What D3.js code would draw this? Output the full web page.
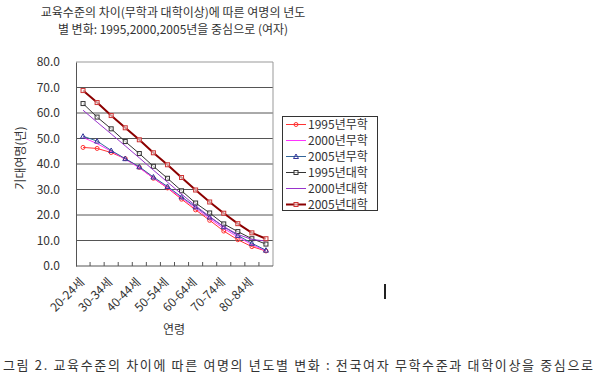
<!DOCTYPE html>
<html>
<head>
<meta charset="utf-8">
<script src="https://cdn.jsdelivr.net/npm/d3@7"></script>
<style>
  body { margin: 0; background: #fff; }
  text { font-family: "Noto Sans CJK KR", "DejaVu Sans", sans-serif; fill: #333; }
</style>
</head>
<body>
<div id="vis-container"></div>
<script>
// age groups (x axis)
const ages = ["20-24세", "25-29세", "30-34세", "35-39세", "40-44세", "45-49세", "50-54세",
  "55-59세", "60-64세", "65-69세", "70-74세", "75-79세", "80-84세", "85세이상"];

// expected remaining years, women
const noEdu1995 = [46.5, 46.1, 44.5, 42.1, 38.7, 34.4, 30.6, 26.2, 22.0, 17.9, 13.7, 10.3, 7.6, 5.9];
const noEdu2000 = [50.4, 48.0, 45.0, 41.9, 38.5, 34.5, 30.8, 26.7, 22.7, 18.6, 14.7, 11.4, 8.4, 5.9];
const noEdu2005 = [50.9, 49.0, 45.3, 42.1, 38.9, 34.9, 31.2, 27.1, 23.2, 19.2, 15.4, 12.0, 8.9, 6.2];
const col1995 = [63.7, 58.4, 53.8, 48.8, 44.1, 39.1, 34.4, 29.5, 24.7, 20.8, 16.5, 13.5, 10.7, 8.6];
const col2000 = [61.1, 56.4, 51.8, 47.1, 42.4, 37.6, 32.9, 28.2, 23.6, 19.4, 15.4, 12.4, 10.4, 9.8];
const col2005 = [68.8, 64.1, 59.0, 54.2, 49.5, 44.4, 39.7, 34.7, 29.8, 25.1, 20.7, 16.6, 13.0, 10.7];

const yTicks = [0, 10, 20, 30, 40, 50, 60, 70, 80];

const series = [
  { name: "1995년무학", values: noEdu1995, color: "#ff3333", width: 1, marker: "circle" },
  { name: "2000년무학", values: noEdu2000, color: "#ff33ff", width: 1, marker: null },
  { name: "2005년무학", values: noEdu2005, color: "#336699", width: 1, marker: "triangle", mcolor: "#333399" },
  { name: "1995년대학", values: col1995, color: "#333333", width: 1, marker: "square" },
  { name: "2000년대학", values: col2000, color: "#9933cc", width: 1, marker: null },
  { name: "2005년대학", values: col2005, color: "#8b0000", width: 2, marker: "square", mcolor: "#cc3333" }
];

const width = 600, height = 385;
const svg = d3.select('#vis-container').append('svg')
  .attr('width', width).attr('height', height);

const x = d3.scaleBand().domain(ages).range([76, 273]);
const y = d3.scaleLinear().domain([0, 80]).range([266, 62]);

// titles
svg.append('text').attr('x', 173).attr('y', 17).attr('text-anchor', 'middle')
  .style('font-size', '12px').text('교육수준의 차이(무학과 대학이상)에 따른 여명의 년도');
svg.append('text').attr('x', 173).attr('y', 34).attr('text-anchor', 'middle')
  .style('font-size', '12px').text('별 변화: 1995,2000,2005년을 중심으로 (여자)');

// gridlines
svg.append('g').selectAll('line').data(yTicks.slice(1)).enter().append('line')
  .attr('x1', 76).attr('x2', 273)
  .attr('y1', d => y(d)).attr('y2', d => y(d))
  .attr('stroke', d => d === 80 ? '#999' : '#555').attr('stroke-width', 1);
svg.append('line').attr('x1', 273).attr('x2', 273).attr('y1', y(80)).attr('y2', y(0))
  .attr('stroke', '#999');

// y axis
const yAxis = svg.append('g').attr('transform', 'translate(76,0)')
  .call(d3.axisLeft(y).tickValues(yTicks).tickSize(0).tickPadding(16).tickFormat(d3.format('.1f')));
yAxis.select('.domain').attr('stroke', '#555');
yAxis.selectAll('text').style('font-size', '12px').attr('fill', '#333');

// x axis with inward ticks at category boundaries
svg.append('line').attr('x1', 76).attr('x2', 273).attr('y1', 266).attr('y2', 266).attr('stroke', '#555');
svg.append('g').selectAll('line').data(ages.slice(1)).enter().append('line')
  .attr('x1', d => x(d)).attr('x2', d => x(d)).attr('y1', 266).attr('y2', 262)
  .attr('stroke', '#555');

svg.append('g').selectAll('text').data(ages.filter((d, i) => i % 2 === 0)).enter().append('text')
  .attr('transform', d => `translate(${x(d) + x.bandwidth() / 2 - 1},${280}) rotate(-45)`)
  .attr('text-anchor', 'end').attr('dy', '0.35em')
  .style('font-size', '12px').text(d => d);

svg.append('text').attr('x', 174).attr('y', 334).attr('text-anchor', 'middle')
  .style('font-size', '12px').text('연령');
svg.append('text').attr('transform', 'translate(25,158) rotate(-90)').attr('text-anchor', 'middle')
  .style('font-size', '12px').text('기대여명(년)');

// lines and markers
const line = d3.line().x((d, i) => x(ages[i]) + x.bandwidth() / 2).y(d => y(d));

function drawMarker(g, type, color, cx, cy) {
  if (type === 'circle') {
    g.append('circle').attr('cx', cx).attr('cy', cy).attr('r', 2)
      .attr('fill', 'none').attr('stroke', color);
  } else if (type === 'square') {
    g.append('rect').attr('x', cx - 2).attr('y', cy - 2).attr('width', 4).attr('height', 4)
      .attr('fill', '#fff').attr('fill-opacity', 0.6).attr('stroke', color);
  } else if (type === 'triangle') {
    g.append('path').attr('d', `M${cx},${cy - 2.5}L${cx + 2.5},${cy + 2}L${cx - 2.5},${cy + 2}Z`)
      .attr('fill', 'none').attr('stroke', color);
  }
}

series.forEach(s => {
  const g = svg.append('g');
  g.append('path').datum(s.values).attr('d', line)
    .attr('fill', 'none').attr('stroke', s.color).attr('stroke-width', s.width);
  if (s.marker) {
    s.values.forEach((v, i) => drawMarker(g, s.marker, s.mcolor || s.color,
      x(ages[i]) + x.bandwidth() / 2, y(v)));
  }
});

// legend
const legend = svg.append('g');
legend.append('rect').attr('x', 282.5).attr('y', 116.5).attr('width', 95).attr('height', 94)
  .attr('fill', '#fff').attr('stroke', '#333');
series.forEach((s, i) => {
  const ly = 124.5 + i * 16;
  legend.append('line').attr('x1', 286).attr('x2', 306).attr('y1', ly).attr('y2', ly)
    .attr('stroke', s.color).attr('stroke-width', s.width);
  if (s.marker) drawMarker(legend, s.marker, s.mcolor || s.color, 296, ly);
  legend.append('text').attr('x', 308).attr('y', ly).attr('dy', '0.35em')
    .style('font-size', '12px').text(s.name);
});

// text cursor left in the screenshot
svg.append('rect').attr('x', 384).attr('y', 284).attr('width', 2).attr('height', 15).attr('fill', '#222');

// caption
svg.append('text').attr('x', 3).attr('y', 370).attr('textLength', 590)
  .style('font-size', '13px')
  .text('그림 2. 교육수준의 차이에 따른 여명의 년도별 변화 : 전국여자 무학수준과 대학이상을 중심으로');
</script>
</body>
</html>
